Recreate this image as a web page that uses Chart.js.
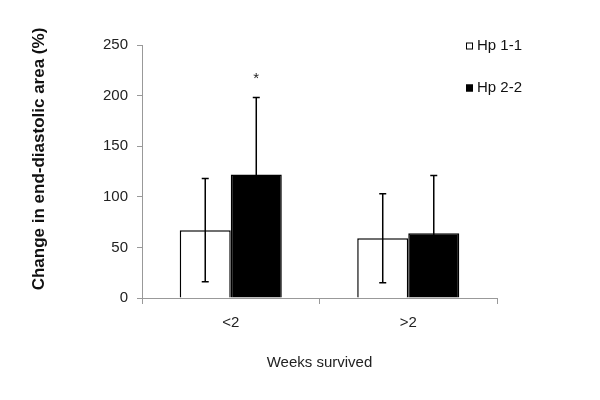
<!DOCTYPE html>
<html>
<head>
  <title>Change in end-diastolic area</title>
  <style>
    body { margin: 0; background: #fff; }
    #wrap { width: 600px; height: 400px; }
  </style>
</head>
<body>
  <div id="wrap"><canvas id="chart" width="600" height="400"></canvas></div>
  <script src="https://cdn.jsdelivr.net/npm/chart.js"></script>
  <script>
    // values
    const categories = ['<2', '>2'];
    const hp11 = [67, 59];
    const hp11Err = [51, 44];
    const hp22 = [122, 64];
    const hp22Err = [76, 57];
    const yTicks = [0, 50, 100, 150, 200, 250];
    const seriesNames = ['Hp 1-1', 'Hp 2-2'];
    const starredCats = ['*', '']; // significance mark above Hp 2-2
    const yTitle = 'Change in end-diastolic area (%)';

    const font = 'Arial, "Liberation Sans", sans-serif';

    // error bars drawn from the bar positions and the y scale
    const errorBars = {
      id: 'errorBars',
      afterDatasetsDraw(chart) {
        const ctx = chart.ctx;
        const y = chart.scales.y;
        const errs = [hp11Err, hp22Err];
        ctx.save();
        ctx.strokeStyle = '#000';
        ctx.lineWidth = 1.5;
        chart.data.datasets.forEach((ds, i) => {
          const meta = chart.getDatasetMeta(i);
          meta.data.forEach((bar, j) => {
            const v = ds.data[j];
            const e = errs[i][j];
            const top = y.getPixelForValue(v + e);
            const bot = y.getPixelForValue(v - e);
            ctx.beginPath();
            ctx.moveTo(bar.x, top);
            ctx.lineTo(bar.x, bot);
            ctx.moveTo(bar.x - 3.5, top);
            ctx.lineTo(bar.x + 3.5, top);
            ctx.moveTo(bar.x - 3.5, bot);
            ctx.lineTo(bar.x + 3.5, bot);
            ctx.stroke();
            if (i === 1 && starredCats[j]) {
              ctx.fillStyle = '#222';
              ctx.font = '15px ' + font;
              ctx.textAlign = 'center';
              ctx.textBaseline = 'middle';
              ctx.fillText(starredCats[j], bar.x, top - 19);
            }
          });
        });
        ctx.restore();
      }
    };

    // legend in the top right corner and the rotated y title
    const extras = {
      id: 'extras',
      afterDraw(chart) {
        const ctx = chart.ctx;
        ctx.save();
        ctx.font = '15px ' + font;
        ctx.textBaseline = 'middle';
        ctx.textAlign = 'left';
        chart.data.datasets.forEach((ds, i) => {
          const yy = 46 + i * 42;
          ctx.fillStyle = ds.backgroundColor;
          ctx.fillRect(466, yy - 3.5, 7, 7);
          ctx.strokeStyle = '#000';
          ctx.lineWidth = 1;
          ctx.strokeRect(466.5, yy - 3, 6, 6);
          ctx.fillStyle = '#111';
          ctx.fillText(ds.label, 477, yy);
        });
        ctx.translate(39, 159);
        ctx.rotate(-Math.PI / 2);
        ctx.textAlign = 'center';
        ctx.font = 'bold 17px ' + font;
        ctx.fillStyle = '#111';
        ctx.fillText(yTitle, 0, 0);
        ctx.restore();
      }
    };

    new Chart(document.getElementById('chart'), {
      type: 'bar',
      data: {
        labels: categories,
        datasets: [
          {
            label: seriesNames[0],
            data: hp11,
            backgroundColor: '#ffffff',
            borderColor: '#000000',
            borderWidth: 1.5
          },
          {
            label: seriesNames[1],
            data: hp22,
            backgroundColor: '#000000',
            borderColor: '#000000',
            borderWidth: 1.5
          }
        ]
      },
      options: {
        responsive: false,
        animation: false,
        categoryPercentage: 0.575,
        barPercentage: 1,
        layout: { padding: { top: 45, right: 103, left: 0, bottom: 0 } },
        plugins: {
          legend: { display: false },
          tooltip: { enabled: false }
        },
        scales: {
          x: {
            grid: { offset: true, drawOnChartArea: false, tickLength: 6, color: '#999' },
            border: { color: '#999', width: 1 },
            ticks: { color: '#222', font: { size: 15, family: font }, padding: 10 },
            title: {
              display: true,
              text: 'Weeks survived',
              color: '#222',
              font: { size: 15, family: font },
              padding: { top: 14, bottom: 28 }
            },
            afterFit(s) { s.height = 102; }
          },
          y: {
            min: 0,
            max: 250,
            afterBuildTicks(s) { s.ticks = yTicks.map(v => ({ value: v })); },
            grid: { drawOnChartArea: false, tickLength: 5, color: '#999' },
            border: { color: '#999', width: 1 },
            ticks: { color: '#222', font: { size: 15, family: font }, padding: 9 },
            afterFit(s) { s.width = 142; }
          }
        }
      },
      plugins: [errorBars, extras]
    });
  </script>
</body>
</html>
